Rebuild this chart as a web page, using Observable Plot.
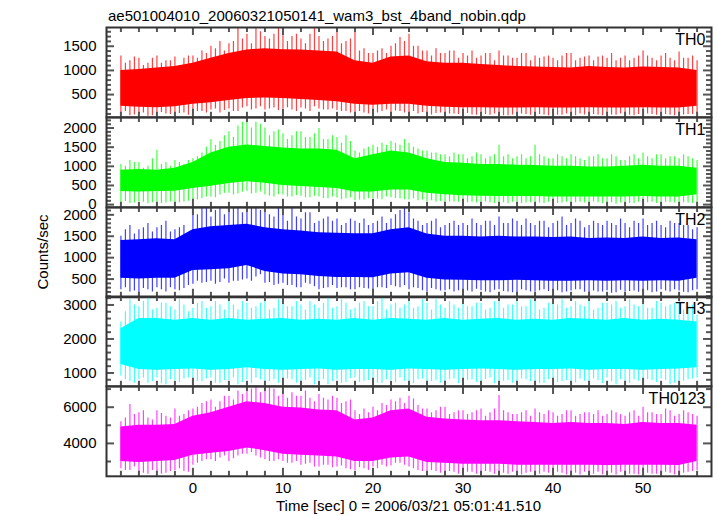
<!DOCTYPE html>
<html><head><meta charset="utf-8">
<script src="https://cdn.jsdelivr.net/npm/d3@7"></script>
<script src="https://cdn.jsdelivr.net/npm/@observablehq/plot@0.6"></script>
<style>
html,body{margin:0;padding:0;background:#fff;}
#chart{position:relative;width:717px;height:516px;background:#fff;font-family:"Liberation Sans",Arial,sans-serif;color:#000;overflow:hidden;}
.txt{position:absolute;white-space:nowrap;font-size:15px;line-height:15px;}
#chart svg{position:absolute;left:0;overflow:visible;}
</style></head><body>
<div id="chart">
<div class="txt" style="left:108px;top:8px;">ae501004010_20060321050141_wam3_bst_4band_nobin.qdp</div>
<div class="txt" style="left:106px;width:605px;text-align:center;top:498px;">Time [sec] 0 = 2006/03/21 05:01:41.510</div>
<div class="txt" style="left:42px;top:252px;transform:translate(-50%,-50%) rotate(-90deg);">Counts/sec</div>
</div>
<script>
// time grids (seconds)
const tCore = [-8,-6,-4,-2,0,2,4,6,8,10,12,14,16,18,20,22,24,26,28,30,32,34,36,38,40,42,44,46,48,50,52,54,56];
const tExt = [-8,-7,-6,-5,-4,-3,-2,-1,0,1,2,3,4,5,6,7,8,9,10,11,12,13,14,15,16,17,18,19,20,21,22,23,24,25,26,27,28,29,30,31,32,33,34,35,36,37,38,39,40,41,42,43,44,45,46,47,48,49,50,51,52,53,54,55,56];
const tHalf = [-7.5,-6.5,-5.5,-4.5,-3.5,-2.5,-1.5,-0.5,0.5,1.5,2.5,3.5,4.5,5.5,6.5,7.5,8.5,9.5,10.5,11.5,12.5,13.5,14.5,15.5,16.5,17.5,18.5,19.5,20.5,21.5,22.5,23.5,24.5,25.5,26.5,27.5,28.5,29.5,30.5,31.5,32.5,33.5,34.5,35.5,36.5,37.5,38.5,39.5,40.5,41.5,42.5,43.5,44.5,45.5,46.5,47.5,48.5,49.5,50.5,51.5,52.5,53.5,54.5,55.5];
const xMajor = [0,10,20,30,40,50];
const xDomain = [-9.6, 57.6];

// TH0
const th0Hi = [1000,1020,1050,1080,1150,1250,1350,1420,1450,1430,1420,1400,1380,1200,1150,1280,1300,1180,1150,1150,1120,1100,1080,1070,1060,1050,1080,1060,1050,1070,1060,1050,1000];
const th0Lo = [260,240,230,250,300,330,380,420,430,420,400,380,350,300,280,300,300,260,240,230,230,220,220,230,220,220,230,220,220,230,220,220,260];
const th0Max = [1300,1200,1250,1150,1300,1200,1280,1250, 1300,1400,1500,1600,1550,1890,1750,1890,1700,1750, 1890,1700,1650,1750,1700,1650,1890,1600,1850,1450, 1350,1450,1500,1680,1750,1500,1400,1450,1350,1400, 1350,1400,1300,1350,1400,1300,1250,1350,1300,1280, 1250,1300,1350,1250,1300,1280,1250,1200,1300,1250, 1400,1250,1300,1250,1380,1250,1200];
const th0Min = [100,60,90,50,80,100,60,120, 100,150,180,120,200,150,250,200,180,220, 200,180,220,150,200,180,170,150,100,120, 130,150,120,150,130,100,90,110,80,100, 90,80,100,70,90,60,80,90,70,80, 90,70,80,100,60,80,90,70,80,60, 80,90,70,80,60,90,100];
const th0Max2 = [1150,1280,1100,1250,1150,1200,1100,1300, 1250,1350,1450,1400,1600,1650,1550,1800,1650,1890, 1600,1750,1550,1890,1600,1700,1550,1650,1400,1350, 1400,1350,1550,1600,1500,1400,1300,1350,1400,1250, 1300,1250,1350,1200,1300,1250,1350,1200,1250,1300, 1200,1350,1200,1280,1200,1300,1350,1250,1200,1300, 1300,1200,1350,1200,1250,1300];
const th0Min2 = [150,80,120,60,130,90,110,70, 150,120,200,170,150,220,180,250,200,170, 230,150,200,250,180,200,150,120,150,100, 120,180,160,120,150,130,80,120,100,90, 110,70,90,100,60,80,100,70,90,60, 70,100,60,80,90,60,80,100,70,90, 100,70,90,60,80,90];
const th0Ticks = [500,1000,1500];

// TH1
const th1Hi = [900,920,900,950,1100,1350,1500,1560,1520,1480,1450,1450,1420,1200,1300,1400,1350,1200,1100,1080,1050,1050,1030,1020,1000,1000,980,980,1000,1030,1000,1000,950];
const th1Lo = [340,330,340,350,420,480,550,600,560,500,470,450,420,330,330,380,380,300,260,230,220,210,210,210,200,200,200,200,200,210,200,200,260];
const th1Max = [1050,1150,1100,1000,1420,1100,1150,1050, 1200,1350,1700,1650,1900,2050,2250,2150,2000,1900, 1850,1800,1900,1750,1990,1700,1750,1800,1400,1450, 1550,1600,1650,1550,1600,1450,1400,1350,1300,1350, 1300,1250,1300,1250,1550,1300,1250,1200,1550,1250, 1200,1250,1300,1200,1250,1300,1200,1250,1150,1300, 1350,1200,1300,1250,1200,1250,1150];
const th1Min = [50,30,80,20,60,40,10,70, 100,150,200,250,300,280,350,300,250,200, 250,200,220,180,200,150,170,150,100,120, 150,130,180,150,120,100,80,60,50,70, 40,60,30,50,40,20,60,40,50,30, 50,40,20,60,30,50,40,10,60,30, 40,60,30,50,20,40,60];
const th1Max2 = [1000,1100,950,1200,1050,1000,1100,1150, 1250,1500,1550,1800,1750,2150,2000,2100,1800,1950, 1700,1900,1750,1850,1700,1800,1600,1650,1350,1500, 1500,1550,1600,1700,1500,1400,1350,1300,1250,1300, 1200,1350,1200,1300,1250,1200,1300,1250,1300,1200, 1300,1200,1250,1150,1250,1200,1300,1150,1250,1200, 1250,1300,1200,1250,1300,1200];
const th1Min2 = [80,40,60,50,30,70,50,90, 120,200,180,300,250,320,280,330,220,260, 200,240,180,220,160,200,130,180,120,150, 140,200,160,130,150,120,100,80,70,60, 50,40,70,30,50,60,30,50,40,60, 30,60,50,40,70,20,50,40,30,60, 50,30,60,40,50,30];
const th1Ticks = [0,500,1000,1500,2000];

// TH2
const th2Hi = [1400,1420,1440,1420,1650,1720,1750,1780,1700,1650,1620,1580,1570,1560,1560,1650,1700,1550,1500,1500,1480,1500,1480,1480,1470,1480,1450,1460,1450,1480,1450,1460,1420];
const th2Lo = [520,500,520,520,700,720,740,820,680,620,600,560,540,540,530,620,650,520,480,470,460,460,470,460,450,450,460,450,460,450,460,450,520];
const th2Max = [1500,1750,1650,1800,1700,1850,1650,1750, 2200,2200,1950,2200,2100,2200,2200,2200,2200,1950, 2000,2200,1900,2050,1850,1950,1900,1800,1850,1900, 1800,1950,1900,2100,2050,1850,1800,1900,1750,1850, 1800,1900,1750,1850,1950,1800,1850,1900,1750,1850, 1800,1950,1800,1850,1750,1800,1850,1750,1800,1850, 1900,1800,1750,1850,1800,1750,1700];
const th2Min = [250,200,150,250,300,200,250,280, 380,400,450,420,400,450,500,550,400,350, 400,350,300,380,250,300,280,300,250,280, 250,300,350,300,250,280,200,250,230,200, 250,200,230,180,250,200,150,230,200,250, 200,180,220,250,150,200,230,180,200,220, 200,180,250,200,220,180,250];
const th2Max2 = [1650,1550,1700,1600,1750,1600,1700,1550, 2000,2200,2100,2000,2200,2050,2200,2100,2000,2200, 1850,1950,2050,1800,1900,1850,1750,1900,1800,1750, 1850,1800,2000,2200,1900,1750,1850,1700,1800,1750, 1750,1800,1850,1750,1800,1900,1750,1800,1850,1700, 1850,1750,1900,1700,1850,1750,1800,1900,1700,1800, 1750,1850,1700,1800,1750,1650];
const th2Min2 = [300,220,280,200,250,300,230,350, 450,420,380,500,450,480,450,600,420,380, 350,300,400,320,280,350,300,250,300,270, 300,280,320,350,300,230,280,220,250,230, 220,260,200,240,210,180,250,200,230,210, 230,200,250,190,220,200,170,240,210,190, 230,200,220,250,190,230];
const th2Ticks = [500,1000,1500,2000];

// TH3
const th3Hi = [2300,2600,2600,2550,2600,2550,2600,2550,2580,2600,2550,2580,2550,2600,2550,2600,2580,2550,2600,2550,2580,2600,2550,2580,2550,2600,2580,2550,2600,2550,2580,2550,2500];
const th3Lo = [1250,1100,1080,1100,1120,1080,1100,1150,1100,1080,1100,1120,1080,1100,1100,1080,1120,1100,1080,1100,1120,1100,1080,1100,1100,1120,1080,1100,1100,1080,1100,1120,1150];
const th3Max = [2500,3150,2950,3200,2900,3050,2850,3000, 2900,3100,2950,3000,3150,2850,3050,2950,3100,2900, 3150,2950,3000,3100,2900,3200,2950,3050,2900,3100, 2950,3200,3000,2900,3100,2950,3050,3150,2900,3000, 3100,2950,3050,2900,3150,3000,3100,2950,3200,2900, 3050,3150,2950,3000,3200,2900,3050,3100,2950,3000, 3150,2900,3050,3000,3100,2950,2700];
const th3Min = [900,750,800,700,850,650,780,820, 800,750,850,700,780,650,800,850,720,800, 750,800,700,850,780,650,800,720,850,760, 800,700,780,850,720,800,650,780,700,820, 760,800,700,850,650,780,720,800,750,700, 800,750,680,820,700,780,850,650,760,800, 700,780,820,650,760,800,850];
const th3Max2 = [2800,3000,3100,2850,3050,2950,3150,2800, 3050,2900,3100,2850,3000,3100,2900,3050,2850,3150, 2950,3100,2850,3000,3050,2900,3150,2850,3050,2950, 3100,2850,3050,3000,2900,3150,2850,3000,3100,2900, 2950,3050,2850,3100,2900,3000,2950,3150,2850,3050, 3000,2900,3100,2950,2850,3050,3000,2900,3150,2950, 2900,3100,2950,3050,2850,3000];
const th3Min2 = [800,700,850,750,680,800,720,850, 750,820,700,780,850,720,680,800,750,700, 820,700,780,650,800,750,700,830,720,780, 700,800,720,760,680,820,750,700,800,680, 780,720,800,680,760,700,820,740,680,800, 720,780,700,760,820,680,740,800,700,760, 800,720,780,700,760,820];
const th3Ticks = [1000,2000,3000];

// TH0123
const th4Hi = [4900,5000,5000,5050,5500,5700,6000,6300,6200,6000,5950,5850,5800,5300,5400,5800,5900,5450,5350,5300,5250,5250,5200,5150,5100,5150,5100,5100,5050,5150,5100,5100,5000];
const th4Lo = [3000,2950,3000,3050,3350,3450,3550,3750,3600,3400,3350,3300,3250,3000,3000,3200,3250,2950,2900,2850,2850,2850,2800,2800,2800,2800,2800,2780,2800,2800,2800,2780,3000];
const th4Max = [5200,6150,5700,5400,5800,5500,5900,5600, 5900,6200,6400,6300,6600,6900,7200,7200,6900,7000, 6700,6800,6600,6500,6700,6400,6500,6300,5800,5900, 6000,6200,6400,6500,6600,6100,5900,5800,6000,5700, 5800,5700,5900,5700,6650,5700,5600,5800,5900,5600, 5700,5600,5800,5600,5700,5800,5600,5700,5500,5800, 6000,5700,5600,5800,5600,5700,5500];
const th4Min = [2600,2500,2400,2300,2400,2350,2500,2450, 2800,3000,3100,3200,3000,3300,3400,3300,3100,3000, 3000,2900,2800,2900,2700,2800,2700,2600,2500,2600, 2700,2800,2750,2900,2700,2500,2400,2450,2300,2400, 2350,2400,2300,2400,2250,2300,2400,2350,2250,2400, 2300,2350,2400,2250,2300,2400,2300,2250,2350,2300, 2400,2300,2250,2350,2300,2400,2500];
const th4Max2 = [5400,5600,5800,5300,5650,5400,5500,5800, 6000,6300,6000,6600,6400,6700,7000,6800,7100,6600, 6500,6600,6900,6300,6500,6600,6200,6400,5600,5700, 5800,6100,6300,6200,6450,5900,5700,6000,5600,5800, 5600,5800,5500,5900,5800,5600,5700,5500,5700,5800, 5500,5800,5500,5700,5600,5500,5800,5600,5700,5500, 5700,5600,5900,5500,5800,5600];
const th4Min2 = [2500,2700,2350,2500,2300,2450,2600,2400, 2900,3100,3000,3300,3150,3400,3500,3200,3000,3100, 2900,3000,2850,2700,2800,2650,2750,2550,2650,2500, 2600,2700,2900,2800,2600,2450,2500,2350,2450,2300, 2400,2300,2450,2300,2350,2400,2250,2400,2300,2350, 2400,2250,2350,2400,2300,2250,2350,2400,2300,2250, 2350,2300,2400,2250,2350,2450];
const th4Ticks = [4000,6000];

const panels = [
  {label: "TH0", color: "#ff0000", hi: th0Hi, lo: th0Lo, mx: th0Max, mn: th0Min, mx2: th0Max2, mn2: th0Min2, domain: [30, 1888], ticks: th0Ticks, minorStep: 100},
  {label: "TH1", color: "#00ff00", hi: th1Hi, lo: th1Lo, mx: th1Max, mn: th1Min, mx2: th1Max2, mn2: th1Min2, domain: [-70, 2275], ticks: th1Ticks, minorStep: 100},
  {label: "TH2", color: "#0000ff", hi: th2Hi, lo: th2Lo, mx: th2Max, mn: th2Min, mx2: th2Max2, mn2: th2Min2, domain: [75, 2171], ticks: th2Ticks, minorStep: 100},
  {label: "TH3", color: "#00ffff", hi: th3Hi, lo: th3Lo, mx: th3Max, mn: th3Min, mx2: th3Max2, mn2: th3Min2, domain: [608, 3249], ticks: th3Ticks, minorStep: 200},
  {label: "TH0123", color: "#ff00ff", hi: th4Hi, lo: th4Lo, mx: th4Max, mn: th4Min, mx2: th4Max2, mn2: th4Min2, domain: [2183, 7144], ticks: th4Ticks, minorStep: 1000}
];
const tops = [27, 116.8, 206.6, 296.4, 386.2];
const H = 89.8;
const innerW = 605;
const tickStroke = "#555";
const xMinor = d3.range(-8, 57, 2).filter(v => v % 10 !== 0);
const chart = document.getElementById("chart");

panels.forEach((p, i) => {
  const last = i === panels.length - 1;
  const core = tCore.map((t, j) => ({t, lo: p.lo[j], hi: p.hi[j]}));
  const ext = tExt.map((t, j) => ({t, mn: p.mn[j], mx: p.mx[j]}));
  const ext2 = tHalf.map((t, j) => ({t, mn: p.mn2[j], mx: p.mx2[j]}));
  const yMinor = d3.range(Math.ceil(p.domain[0] / p.minorStep) * p.minorStep, p.domain[1], p.minorStep).filter(v => !p.ticks.includes(v));
  const [y0, y1] = p.domain;
  const ySpan = y1 - y0;
  const [x0, x1] = xDomain;
  const xSpan = x1 - x0;
  // tick lengths in pixels converted to data units of each scale
  const yLen = px => ySpan * px / H;
  const xLen = px => xSpan * px / innerW;
  const tk = {stroke: tickStroke, strokeWidth: 2};
  const marks = [
    Plot.ruleX(ext2, {x: "t", y1: "mn", y2: "mx", stroke: p.color, strokeOpacity: 0.75, strokeWidth: 1.2, clip: true}),
    Plot.ruleX(ext, {x: "t", y1: "mn", y2: "mx", stroke: p.color, strokeOpacity: 0.75, strokeWidth: 1.2, clip: true}),
    Plot.areaY(core, {x: "t", y1: "lo", y2: "hi", fill: p.color, clip: true}),
    // inward ticks on all four sides
    Plot.ruleX(xMajor, {...tk, x: d => d, y1: y0, y2: y0 + yLen(8)}),
    Plot.ruleX(xMinor, {...tk, x: d => d, y1: y0, y2: y0 + yLen(5)}),
    Plot.ruleX(xMajor, {...tk, x: d => d, y1: y1 - yLen(8), y2: y1}),
    Plot.ruleX(xMinor, {...tk, x: d => d, y1: y1 - yLen(5), y2: y1}),
    Plot.ruleY(p.ticks, {...tk, y: d => d, x1: x0, x2: x0 + xLen(8)}),
    Plot.ruleY(yMinor, {...tk, y: d => d, x1: x0, x2: x0 + xLen(5)}),
    Plot.ruleY(p.ticks, {...tk, y: d => d, x1: x1 - xLen(8), x2: x1}),
    Plot.ruleY(yMinor, {...tk, y: d => d, x1: x1 - xLen(5), x2: x1}),
    Plot.axisY({anchor: "left", ticks: p.ticks, tickSize: 0, tickPadding: 10, label: null, fontSize: 15, tickFormat: d => String(d)}),
    Plot.frame({stroke: "#333", strokeWidth: 2}),
    Plot.text([p.label], {text: d => d, frameAnchor: "top-right", dx: -6, dy: 6, textAnchor: "end", lineAnchor: "top", fontSize: 16})
  ];
  if (last) marks.push(Plot.axisX({anchor: "bottom", ticks: xMajor, tickSize: 0, tickPadding: 6, label: null, fontSize: 15, tickFormat: d => String(d)}));
  else marks.push(Plot.axisX({ticks: [], label: null}));
  const svg = Plot.plot({
    width: 717,
    height: H + (last ? 24 : 0),
    marginLeft: 106, marginRight: 6, marginTop: 0, marginBottom: last ? 24 : 0,
    style: {fontFamily: "Liberation Sans, Arial, sans-serif", fontSize: "15px", overflow: "visible", background: "transparent"},
    x: {domain: xDomain, label: null},
    y: {domain: p.domain, label: null},
    marks
  });
  svg.style.top = tops[i] + "px";
  svg.style.position = "absolute";
  chart.appendChild(svg);
});
</script>
</body></html>
